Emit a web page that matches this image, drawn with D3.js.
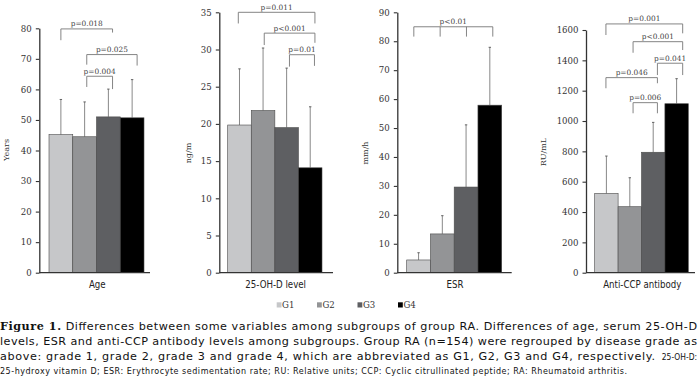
<!DOCTYPE html>
<html><head><meta charset="utf-8">
<script src="https://cdn.jsdelivr.net/npm/d3@7"></script>
<style>html,body{margin:0;padding:0;background:#fff;}svg{display:block;}</style>
</head><body>
<svg id="c" width="700" height="379"></svg>
<script>
// ---- data ----
const groups = ["G1", "G2", "G3", "G4"];
const panelNames = ["Age", "25-OH-D level", "ESR", "Anti-CCP antibody"];
const unitLabels = ["Years", "ng/m", "mm/h", "RU/mL"];
const ageMean = [45.2, 44.5, 51.0, 50.7];
const ageSD = [11.5, 11.4, 9.1, 12.5];
const vitdMean = [19.85, 21.8, 19.5, 14.1];
const vitdSD = [7.55, 8.4, 8.0, 8.2];
const esrMean = [4.4, 13.4, 29.6, 57.9];
const esrSD = [2.5, 6.3, 21.5, 20.0];
const ccpMean = [523, 435, 794, 1114];
const ccpSD = [246, 191, 197, 165];
const ageTicks = [0, 10, 20, 30, 40, 50, 60, 70, 80];
const vitdTicks = [0, 5, 10, 15, 20, 25, 30, 35];
const esrTicks = [0, 10, 20, 30, 40, 50, 60, 70, 80, 90];
const ccpTicks = [0, 200, 400, 600, 800, 1000, 1200, 1400, 1600];
// comparisons: [from group, to group, p label, bracket level, left leg end, right leg end] (data units)
const ageComps = [["G1", "G3", "p=0.018", 79.8, 76.1, 78.6], ["G2", "G4", "p=0.025", 71.4, 68.1, 67.8], ["G2", "G3", "p=0.004", 64.3, 60.8, 60.1]];
const vitdComps = [["G1", "G4", "p=0.011", 35.0, 33.5, 33.5], ["G2", "G4", "p<0.001", 32.2, 30.6, 30.9], ["G3", "G4", "p=0.01", 29.3, 27.7, 27.8]];
const esrComps = [["G1", "G4", "p<0.01", 85.0, 81.6, 81.6]];
const ccpComps = [["G1", "G4", "p=0.001", 1640, 1567, 1578], ["G2", "G4", "p<0.001", 1523, 1450, 1468], ["G3", "G4", "p=0.041", 1381, 1303, 1303], ["G1", "G3", "p=0.046", 1286, 1216, 1249], ["G2", "G3", "p=0.006", 1121, 1051, 1051]];

const colors = ["#c6c7c9", "#939496", "#5e5f62", "#000000"];

// ---- layout (positions only) ----
const y0 = 272.7;
const layout = [
  {ax: 39.3, b0: 49, b1: 144, end: 150, top: 28.3, titleX: 6.5, titleY: 150,
   legs: [[0.5, 0.675], [0.59, 0.71], [0.59, 0.675]]},
  {ax: 219.3, b0: 227.7, b1: 322, end: 333, top: 12.3, titleX: 188.5, titleY: 153,
   legs: [[0.45, 0.70], [0.55, 0.70], [0.62, 0.68]]},
  {ax: 397.3, b0: 406.7, b1: 501.7, end: 511.7, top: 12.3, titleX: 365, titleY: 153,
   legs: [[0.30, 0.625]]},
  {ax: 586, b0: 594.7, b1: 688.3, end: 695, top: 30, titleX: 543, titleY: 152,
   legs: [[0.48, 0.76], [0.64, 0.76], [0.68, 0.76], [0.48, 0.68], [0.64, 0.68]]}
];
const means = [ageMean, vitdMean, esrMean, ccpMean];
const sds = [ageSD, vitdSD, esrSD, ccpSD];
const ticks = [ageTicks, vitdTicks, esrTicks, ccpTicks];
const comps = [ageComps, vitdComps, esrComps, ccpComps];

const svg = d3.select("#c");
const serif = "'DejaVu Serif', serif";

panelNames.forEach((name, p) => {
  const L = layout[p];
  const tk = ticks[p];
  const y = d3.scaleLinear().domain([0, d3.max(tk)]).range([y0, L.top]);
  const x = d3.scaleBand().domain(groups).range([L.b0, L.b1]).paddingInner(0).paddingOuter(0);
  const g = svg.append("g");

  // bars
  g.selectAll("rect.bar").data(groups).join("rect")
    .attr("x", d => x(d)).attr("width", x.bandwidth())
    .attr("y", (d, i) => y(means[p][i]))
    .attr("height", (d, i) => y0 - y(means[p][i]))
    .attr("fill", (d, i) => colors[i])
    .attr("stroke", "#4a4a4a").attr("stroke-width", 0.6);

  // error bars
  groups.forEach((gName, i) => {
    const cx = x(gName) + x.bandwidth() / 2;
    const top = y(means[p][i] + sds[p][i]);
    g.append("line").attr("x1", cx).attr("x2", cx).attr("y1", y(means[p][i])).attr("y2", top)
      .attr("stroke", "#555").attr("stroke-width", 0.7);
    g.append("line").attr("x1", cx - 1.2).attr("x2", cx + 1.2).attr("y1", top).attr("y2", top)
      .attr("stroke", "#555").attr("stroke-width", 0.9);
  });

  // y axis
  const axis = g.append("g").attr("transform", `translate(${L.ax},0)`)
    .call(d3.axisLeft(y).tickValues(tk).tickFormat(d3.format("d")).tickSize(3.5).tickSizeOuter(0).tickPadding(4));
  axis.select(".domain").attr("stroke", "#333").attr("stroke-width", 1.3);
  axis.selectAll(".tick line").attr("stroke", "#333").attr("stroke-width", 1.1);
  axis.selectAll(".tick text").attr("font-family", serif).attr("font-size", 8.6).attr("fill", "#333");

  // x axis baseline
  g.append("line").attr("x1", L.ax).attr("x2", L.end).attr("y1", y0).attr("y2", y0)
    .attr("stroke", "#333").attr("stroke-width", 1.3);

  // unit title
  g.append("text").attr("transform", `translate(${L.titleX},${L.titleY}) rotate(-90)`)
    .attr("text-anchor", "middle").attr("dominant-baseline", "central")
    .attr("font-family", serif).attr("font-size", 8).attr("fill", "#333").text(unitLabels[p]);

  // category label
  g.append("text").attr("x", (L.b0 + L.b1) / 2 + 0.8).attr("y", 288)
    .attr("text-anchor", "middle").attr("font-family", "'DejaVu Sans Condensed', 'DejaVu Sans', sans-serif")
    .attr("font-size", 9.6).attr("fill", "#222").text(name);

  // comparison brackets
  comps[p].forEach((c, k) => {
    const [a, b, lab, lvl, la, lb] = c;
    const [fa, fb] = L.legs[k];
    const xa = x(a) + x.bandwidth() * fa, xb = x(b) + x.bandwidth() * fb;
    const yt = y(lvl);
    let path = `M${xa},${y(la)}V${yt}H${xb}V${y(lb)}`;
    if (p === 2) {
      groups.slice(1, 3).forEach(gm => {
        const xm = xa + (xb - xa) * (groups.indexOf(gm)) / 3;
        path += `M${xm},${yt}V${y(la)}`;
      });
    }
    g.append("path").attr("d", path).attr("fill", "none").attr("stroke", "#777").attr("stroke-width", 0.9);
    g.append("text").attr("x", (xa + xb) / 2).attr("y", yt - 2.6).attr("text-anchor", "middle")
      .attr("font-family", serif).attr("font-size", 7.4).attr("fill", "#444").text(lab);
  });
});

// legend
const legX = [276.7, 317, 357.5, 398];
groups.forEach((gName, i) => {
  svg.append("rect").attr("x", legX[i]).attr("y", 302.3).attr("width", 4.8).attr("height", 5.2).attr("fill", colors[i]);
  svg.append("text").attr("x", legX[i] + 5.4).attr("y", 308).attr("font-family", serif).attr("font-size", 8.6)
    .attr("fill", "#333").text(gName);
});

// caption
const sans = "'DejaVu Sans', sans-serif";
const cfs = 11.2;
const t1 = svg.append("text").attr("x", 0).attr("y", 329.5).attr("font-family", sans).attr("font-size", cfs)
  .attr("textLength", 697).attr("lengthAdjust", "spacing").attr("fill", "#111");
t1.append("tspan").attr("font-weight", "bold").attr("font-family", serif).text("Figure 1.");
t1.append("tspan").text(" Differences between some variables among subgroups of group RA. Differences of age, serum 25-OH-D");
svg.append("text").attr("x", 0).attr("y", 344.5).attr("font-family", sans).attr("font-size", cfs)
  .attr("textLength", 697).attr("lengthAdjust", "spacing").attr("fill", "#111")
  .text("levels, ESR and anti-CCP antibody levels among subgroups. Group RA (n=154) were regrouped by disease grade as");
svg.append("text").attr("x", 0).attr("y", 359.5).attr("font-family", sans).attr("font-size", cfs)
  .attr("textLength", 655).attr("lengthAdjust", "spacing").attr("fill", "#111")
  .text("above: grade 1, grade 2, grade 3 and grade 4, which are abbreviated as G1, G2, G3 and G4, respectively.");
svg.append("text").attr("x", 697).attr("y", 359.5).attr("text-anchor", "end")
  .attr("font-family", "'DejaVu Sans Condensed', 'DejaVu Sans', sans-serif").attr("font-size", 8.4).attr("fill", "#111")
  .text("25-OH-D:");
svg.append("text").attr("x", 0).attr("y", 374).attr("font-family", sans)
  .attr("font-size", 8).attr("textLength", 627).attr("lengthAdjust", "spacing").attr("fill", "#111")
  .text("25-hydroxy vitamin D; ESR: Erythrocyte sedimentation rate; RU: Relative units; CCP: Cyclic citrullinated peptide; RA: Rheumatoid arthritis.");
</script>
</body></html>
